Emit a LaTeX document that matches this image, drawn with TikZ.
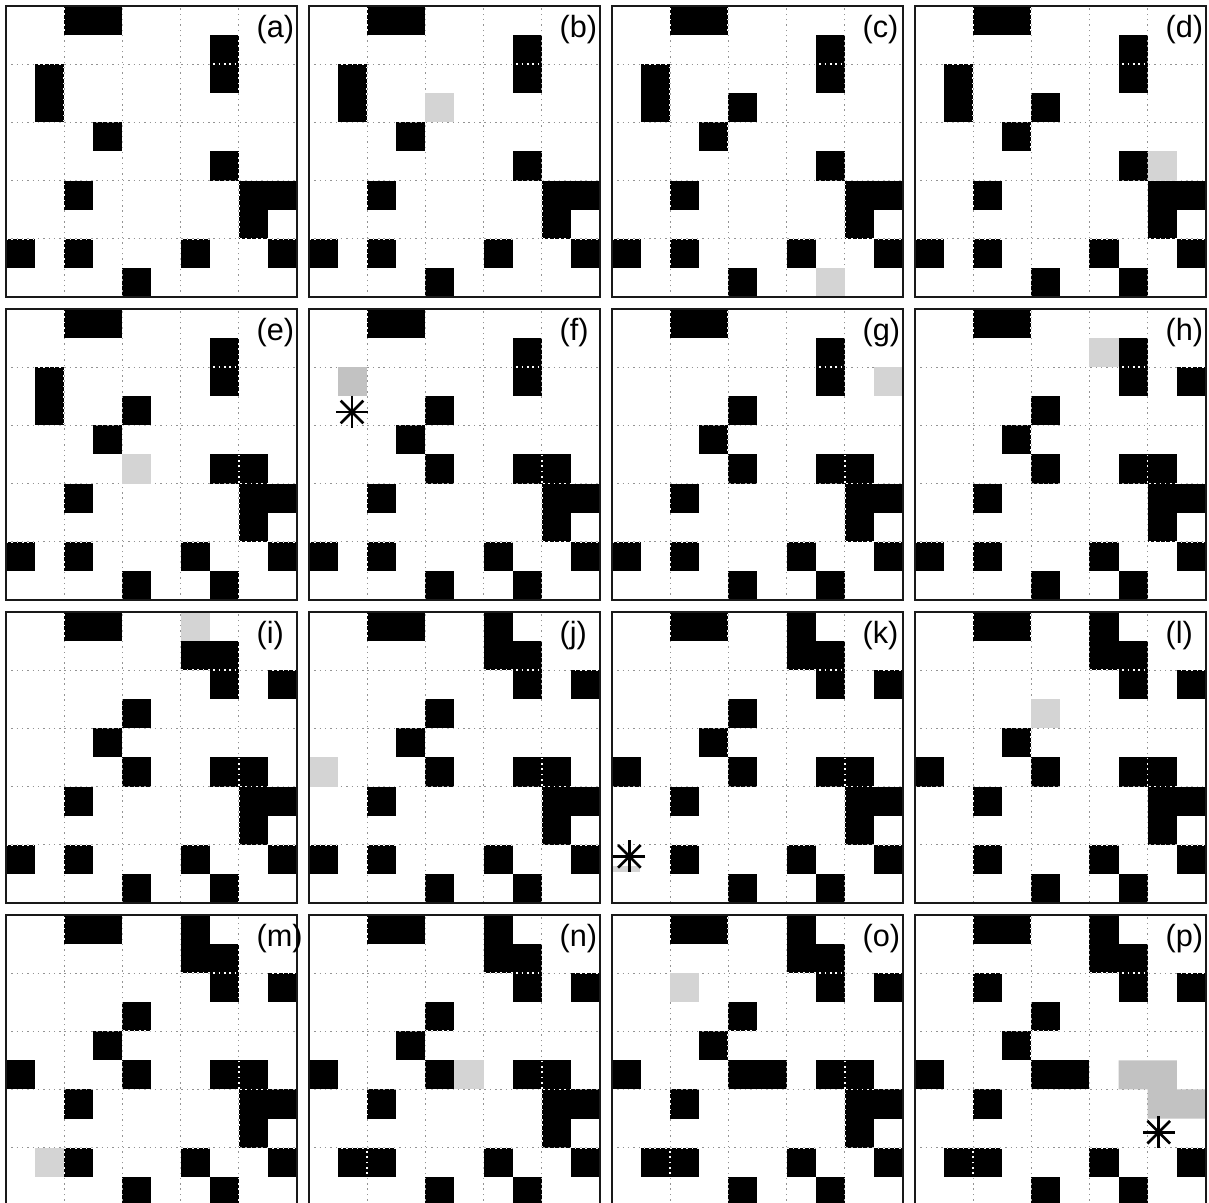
\documentclass[tikz,border=0pt]{standalone}
\usepackage{fontspec}
\setmainfont{Liberation Sans}
\definecolor{cell-gray}{HTML}{D4D4D4}
\definecolor{cut-gray}{HTML}{C2C2C2}
\tikzset{
  gridline/.style={gray!85, line width=0.5pt, dash pattern=on 0.7pt off 1.9pt},
  griddots/.style={white, line width=0.8pt, dash pattern=on 0.8pt off 1.8pt},
  panelframe/.style={black!90, line width=0.9pt},
  panellabel/.style={font=\fontsize{15}{17}\selectfont, anchor=base west, inner sep=0pt},
  starline/.style={black, line width=1.3pt},
}
% one 10x10 board: #1 column, #2 row of the board, #3 letter, #4 black cells, #5 light cells, #6 extra
\newcommand{\gridpanel}[6]{%
  \begin{scope}[shift={({0.206+#1*10.412},{-0.206-#2*10.412})}]
    \draw[gridline] (0,0) grid (10,-10);
    \if\relax\detokenize{#5}\relax\else
      \foreach \c/\r in {#5} {\fill[cell-gray] (\c,-\r) rectangle ++(1,-1);}
    \fi
    \foreach \c/\r in {#4} {\fill[black] (\c,-\r) rectangle ++(1,-1);}
    \begin{scope}
      \clip \foreach \c/\r in {#4} {(\c,-\r) rectangle ++(1,-1)};
      \draw[griddots] (0,0) grid (10,-10);
    \end{scope}
    #6
    \draw[panelframe] (0,0) rectangle (10,-10);
    \node[panellabel] (lbl-#3) at (8.6,-1.08) {(#3)};
  \end{scope}}
\newcommand{\hitmark}[1]{%
  \foreach \a in {0,45,90,135} {\draw[starline] (#1) ++(\a:0.55) -- ++({\a+180}:1.1);}}

\begin{document}
\begin{tikzpicture}[x=0.5cm, y=0.5cm]
  \useasboundingbox (0,0) rectangle (41.55,-41.31);
  % first row
  \gridpanel{0}{0}{a}{2/0,3/0,7/1,7/2,1/2,1/3,3/4,7/5,2/6,8/6,9/6,8/7,0/8,2/8,6/8,9/8,4/9}{}{}
  \gridpanel{1}{0}{b}{2/0,3/0,7/1,7/2,1/2,1/3,3/4,7/5,2/6,8/6,9/6,8/7,0/8,2/8,6/8,9/8,4/9}{4/3}{}
  \gridpanel{2}{0}{c}{2/0,3/0,7/1,7/2,1/2,1/3,4/3,3/4,7/5,2/6,8/6,9/6,8/7,0/8,2/8,6/8,9/8,4/9}{7/9}{}
  \gridpanel{3}{0}{d}{2/0,3/0,7/1,7/2,1/2,1/3,4/3,3/4,7/5,2/6,8/6,9/6,8/7,0/8,2/8,6/8,9/8,4/9,7/9}{8/5}{}
  % second row
  \gridpanel{0}{1}{e}{2/0,3/0,7/1,7/2,1/2,1/3,4/3,3/4,7/5,8/5,2/6,8/6,9/6,8/7,0/8,2/8,6/8,9/8,4/9,7/9}{4/5}{}
  \gridpanel{1}{1}{f}{2/0,3/0,7/1,7/2,4/3,3/4,4/5,7/5,8/5,2/6,8/6,9/6,8/7,0/8,2/8,6/8,9/8,4/9,7/9}{}{%
    \fill[cut-gray] (1,-2) rectangle ++(1,-1);
    \hitmark{1.48,-3.54}}
  \gridpanel{2}{1}{g}{2/0,3/0,7/1,7/2,4/3,3/4,4/5,7/5,8/5,2/6,8/6,9/6,8/7,0/8,2/8,6/8,9/8,4/9,7/9}{9/2}{}
  \gridpanel{3}{1}{h}{2/0,3/0,7/1,7/2,9/2,4/3,3/4,4/5,7/5,8/5,2/6,8/6,9/6,8/7,0/8,2/8,6/8,9/8,4/9,7/9}{6/1}{}
  % third row
  \gridpanel{0}{2}{i}{2/0,3/0,6/1,7/1,7/2,9/2,4/3,3/4,4/5,7/5,8/5,2/6,8/6,9/6,8/7,0/8,2/8,6/8,9/8,4/9,7/9}{6/0}{}
  \gridpanel{1}{2}{j}{2/0,3/0,6/0,6/1,7/1,7/2,9/2,4/3,3/4,4/5,7/5,8/5,2/6,8/6,9/6,8/7,0/8,2/8,6/8,9/8,4/9,7/9}{0/5}{}
  \gridpanel{2}{2}{k}{2/0,3/0,6/0,6/1,7/1,7/2,9/2,4/3,3/4,0/5,4/5,7/5,8/5,2/6,8/6,9/6,8/7,2/8,6/8,9/8,4/9,7/9}{}{%
    \fill[cell-gray] (0,-8.72) rectangle (0.95,-8.95);
    \hitmark{0.6,-8.4}}
  \gridpanel{3}{2}{l}{2/0,3/0,6/0,6/1,7/1,7/2,9/2,3/4,0/5,4/5,7/5,8/5,2/6,8/6,9/6,8/7,2/8,6/8,9/8,4/9,7/9}{4/3}{}
  % fourth row
  \gridpanel{0}{3}{m}{2/0,3/0,6/0,6/1,7/1,7/2,9/2,4/3,3/4,0/5,4/5,7/5,8/5,2/6,8/6,9/6,8/7,2/8,6/8,9/8,4/9,7/9}{1/8}{}
  \gridpanel{1}{3}{n}{2/0,3/0,6/0,6/1,7/1,7/2,9/2,4/3,3/4,0/5,4/5,7/5,8/5,2/6,8/6,9/6,8/7,1/8,2/8,6/8,9/8,4/9,7/9}{5/5}{}
  \gridpanel{2}{3}{o}{2/0,3/0,6/0,6/1,7/1,7/2,9/2,4/3,3/4,0/5,4/5,5/5,7/5,8/5,2/6,8/6,9/6,8/7,1/8,2/8,6/8,9/8,4/9,7/9}{2/2}{}
  \gridpanel{3}{3}{p}{2/0,3/0,6/0,6/1,7/1,2/2,7/2,9/2,4/3,3/4,0/5,4/5,5/5,2/6,1/8,2/8,6/8,9/8,4/9,7/9}{}{%
    \fill[cut-gray] (7,-5) rectangle (9,-6) (8,-6) rectangle (10,-7);
    \hitmark{8.38,-7.47}}
\end{tikzpicture}
\end{document}
